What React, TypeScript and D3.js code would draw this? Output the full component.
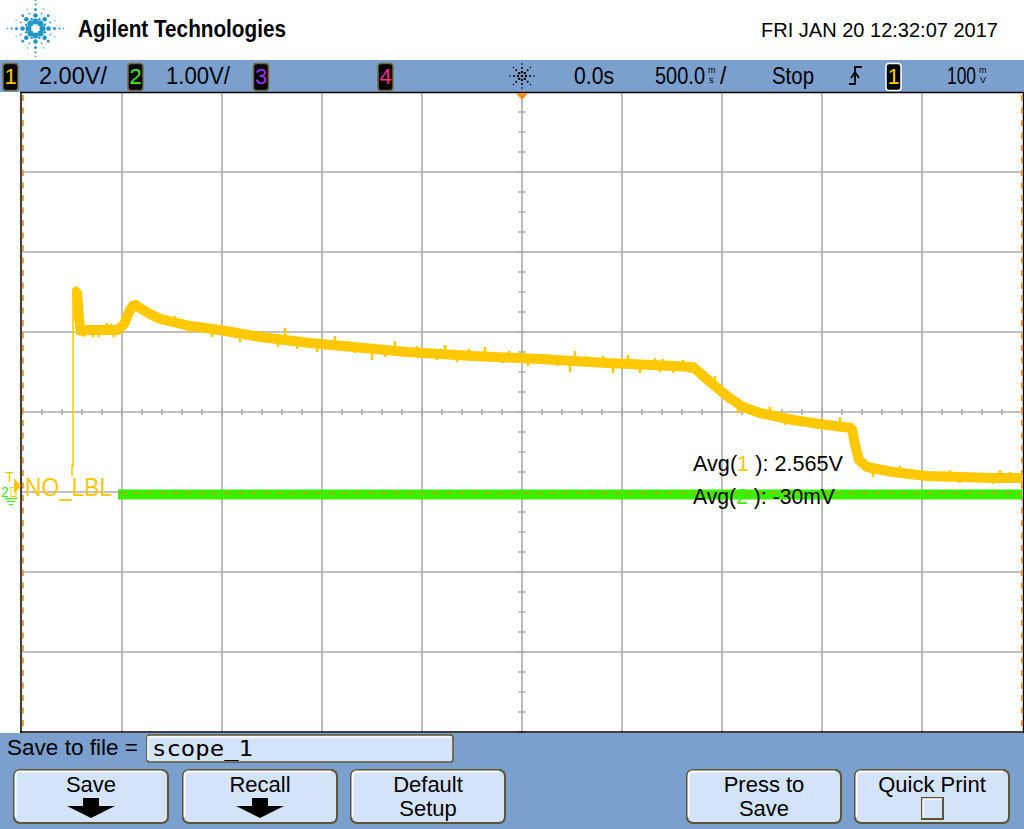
import React, { useEffect, useRef } from "react";
import * as d3 from "d3";

// channel 1 trace, centre of the noisy band (time in s, volts)
const ch1Time = [-2.245, -2.225, -2.215, -2.205, -2.19, -2.11, -2.02, -1.99, -1.965, -1.94, -1.91, -1.86, -1.81, -1.66, -1.51, -1.31, -1.06, -0.845, -0.575, -0.245, 0.09, 0.425, 0.755, 0.855, 0.89, 0.94, 1.025, 1.105, 1.19, 1.355, 1.525, 1.65, 1.665, 1.685, 1.725, 1.855, 2.025, 2.355, 2.5];
const ch1Volts = [5.03, 5.0, 4.35, 3.95, 4.05, 4.05, 4.05, 4.2, 4.5, 4.7, 4.6, 4.45, 4.33, 4.15, 4.05, 3.875, 3.725, 3.625, 3.5, 3.4, 3.325, 3.225, 3.15, 3.125, 2.975, 2.75, 2.4, 2.125, 1.975, 1.8, 1.675, 1.6, 1.175, 0.8, 0.625, 0.5, 0.4, 0.35, 0.35];

// thin leading edge before the band
const leadTime = [-2.25, -2.25, -2.245, -2.245];
const leadVolts = [0.4, 0.65, 0.65, 5.1];

// noise spikes (time, tip volts)
const spikeTime = [-2.145, -2.115, -2.075, -2.055, -2.04, -1.735, -1.67, -1.55, -1.46, -1.41, -1.32, -1.22, -1.185, -1.125, -1.025, -0.935, -0.87, -0.835, -0.75, -0.685, -0.635, -0.525, -0.52, -0.425, -0.385, -0.325, -0.265, -0.185, -0.1, -0.065, 0.03, 0.125, 0.175, 0.24, 0.265, 0.325, 0.405, 0.455, 0.53, 0.59, 0.665, 0.69, 0.705, 0.755, 0.805, 0.84, 0.965, 1.03, 1.08, 1.175, 1.24, 1.315, 1.38, 1.48, 1.59, 1.755, 1.89, 1.955, 2.14, 2.19, 2.355, 2.39, 2.44];
const spikeVolts = [3.875, 3.875, 4.225, 4.2, 3.875, 4.4, 3.975, 3.875, 3.875, 3.75, 4.025, 3.625, 4.1, 3.575, 3.5, 3.9, 3.775, 3.475, 3.3, 3.375, 3.775, 3.65, 3.35, 3.3, 3.675, 3.25, 3.575, 3.625, 3.225, 3.525, 3.15, 3.45, 3.15, 3.0, 3.525, 3.4, 3.4, 2.975, 3.425, 2.975, 3.35, 3.0, 3.325, 2.975, 3.3, 2.975, 2.9, 2.225, 1.975, 1.875, 2.125, 1.675, 1.9, 1.575, 1.875, 0.375, 0.65, 0.325, 0.55, 0.225, 0.2, 0.55, 0.5];

// channel 2 trace
const ch2Time = [-2.02, 2.5];
const ch2Volts = [-0.03, -0.03];

const FONT = "'Liberation Sans', Arial, sans-serif";
const BAR = "#7ca0cd";
const BTN = "#d3e4f8";
const YELLOW = "#ffc800";
const GREEN = "#38f000";
const ORANGE = "#ff8a00";

const ChanBox: React.FC<{ x: number; label: string; color: string; border?: string }> = ({ x, label, color, border = "#76693f" }) => (
  <g>
    <rect x={x} y={63.5} width={15} height={27} rx={3} fill="#000" stroke={border} strokeWidth={1.5} />
    <text x={x + 7.5} y={84} fill={color} fontSize={22} textAnchor="middle" fontFamily={FONT}>{label}</text>
  </g>
);

// small stacked unit, e.g. m over s
const Stacked: React.FC<{ x: number; top: string; bottom: string }> = ({ x, top, bottom }) => (
  <text x={x} y={73} fontSize={9} fontFamily={FONT}>
    {top}
    <tspan x={x + 1} dy={10}>{bottom}</tspan>
  </text>
);

const Button: React.FC<{ x: number; lines: string[]; arrow?: boolean; box?: boolean }> = ({ x, lines, arrow, box }) => {
  const w = 154, y = 770, h = 53, cx = x + w / 2;
  return (
    <g>
      <rect x={x} y={y} width={w} height={h} rx={6} fill={BTN} stroke="#5d5433" strokeWidth={2} />
      <path d={`M${x + 1.5},${y + h - 6} V${y + 6} Q${x + 1.5},${y + 1.5} ${x + 6},${y + 1.5} H${x + w - 6}`} fill="none" stroke="#fff" strokeWidth={2} />
      {lines.map((l, i) => (
        <text key={l} x={cx} y={792 + i * 24} fontSize={22} textAnchor="middle" fontFamily={FONT} fill="#000">{l}</text>
      ))}
      {arrow && <path d={`M${cx - 8},798 H${cx + 8} V806 H${cx + 24} L${cx},818 L${cx - 24},806 H${cx - 8} Z`} fill="#000" />}
      {box && (
        <g>
          <rect x={cx - 10} y={798} width={21} height={21} fill={BTN} stroke="#5d5433" strokeWidth={2} />
          <path d={`M${cx - 9},818 V799 H${cx + 10}`} fill="none" stroke="#fff" strokeWidth={1.5} />
        </g>
      )}
    </g>
  );
};

const Logo: React.FC = () => {
  const cx = 35.5, cy = 28.5;
  const dots: { x: number; y: number; r: number }[] = [];
  for (let k = 0; k < 8; k++) {
    const a = (k * Math.PI) / 4;
    const rings = k % 2 === 0 ? [[7, 3], [13, 2.3], [19, 1.5], [24, 1.1], [28, 0.8]] : [[7, 3], [13, 2.3], [18, 1.4]];
    rings.forEach(([r, s]) => dots.push({ x: cx + r * Math.cos(a), y: cy + r * Math.sin(a), r: s }));
    const b = a + Math.PI / 8;
    [[10, 1.6], [16, 1.1], [21, 0.8]].forEach(([r, s]) => dots.push({ x: cx + r * Math.cos(b), y: cy + r * Math.sin(b), r: s * 0.8 }));
  }
  return (
    <g fill="#2296c6">
      {dots.map((d, i) => <circle key={i} cx={d.x} cy={d.y} r={d.r} />)}
    </g>
  );
};

const TrigIcon: React.FC<{ cx: number; cy: number }> = ({ cx, cy }) => {
  const dots: [number, number, number][] = [[cx, cy, 1.3]];
  for (let k = 0; k < 8; k++) {
    const a = (k * Math.PI) / 4;
    [4, 8, 12].forEach((r, j) => dots.push([cx + r * Math.cos(a), cy + r * Math.sin(a), 1.2 - j * 0.2]));
  }
  return <g fill="#000">{dots.map(([x, y, r], i) => <circle key={i} cx={x} cy={y} r={r} />)}</g>;
};

const App: React.FC = () => {
  const plotRef = useRef<SVGGElement | null>(null);

  useEffect(() => {
    document.body.style.margin = "0";
    if (!plotRef.current) return;
    const g = d3.select(plotRef.current);
    g.selectAll("*").remove();

    const x = d3.scaleLinear().domain([-2.5, 2.5]).range([22, 1022]); // 500 ms/div
    const y1 = d3.scaleLinear().domain([-6, 10]).range([732, 92]); // 2 V/div
    const y2 = d3.scaleLinear().domain([-3, 5]).range([732, 92]); // 1 V/div

    // graticule
    const vLines = d3.range(1, 10).map((i) => -2.5 + i * 0.5);
    const hLines = d3.range(1, 8).map((i) => -6 + i * 2);
    g.selectAll(".vl")
      .data(vLines)
      .enter()
      .append("line")
      .attr("x1", (d) => x(d))
      .attr("x2", (d) => x(d))
      .attr("y1", 93)
      .attr("y2", 732)
      .attr("stroke", "#ababab")
      .attr("stroke-width", 1.6);
    g.selectAll(".hl")
      .data(hLines)
      .enter()
      .append("line")
      .attr("x1", 22)
      .attr("x2", 1022)
      .attr("y1", (d) => y1(d))
      .attr("y2", (d) => y1(d))
      .attr("stroke", "#ababab")
      .attr("stroke-width", 1.6);

    // minor ticks on the centre lines
    const yc = y1(2);
    g.selectAll(".tx")
      .data(d3.range(0, 51).map((i) => -2.5 + i * 0.1))
      .enter()
      .append("line")
      .attr("x1", (d) => x(d))
      .attr("x2", (d) => x(d))
      .attr("y1", yc - 3)
      .attr("y2", yc + 3)
      .attr("stroke", "#ababab")
      .attr("stroke-width", 1.6);
    g.selectAll(".ty")
      .data(d3.range(0, 33).map((i) => -6 + i * 0.5))
      .enter()
      .append("line")
      .attr("x1", x(0) - 3.5)
      .attr("x2", x(0) + 3.5)
      .attr("y1", (d) => y1(d))
      .attr("y2", (d) => y1(d))
      .attr("stroke", "#ababab")
      .attr("stroke-width", 1.6);

    // frame
    g.append("line").attr("x1", 20).attr("x2", 1024).attr("y1", 92.5).attr("y2", 92.5).attr("stroke", "#000").attr("stroke-width", 1.5);
    g.append("line").attr("x1", 20).attr("x2", 1024).attr("y1", 732).attr("y2", 732).attr("stroke", "#000").attr("stroke-width", 1.5);
    g.append("line").attr("x1", 21).attr("x2", 21).attr("y1", 92).attr("y2", 733).attr("stroke", "#000").attr("stroke-width", 1.5);
    g.append("line").attr("x1", 1023.5).attr("x2", 1023.5).attr("y1", 92).attr("y2", 733).attr("stroke", "#000").attr("stroke-width", 1.5);
    [22.8, 1022].forEach((px) =>
      g.append("line")
        .attr("x1", px).attr("x2", px).attr("y1", 95).attr("y2", 732)
        .attr("stroke", ORANGE).attr("stroke-width", 1.8).attr("stroke-dasharray", "6,6.5")
    );

    // time reference marker
    g.append("path")
      .attr("d", `M${x(0) - 6},93 L${x(0) + 6},93 L${x(0)},100 Z`)
      .attr("fill", "#ff8c1a");

    // channel 2 trace
    const line2 = d3.line<number>().x((d, i) => x(ch2Time[i])).y((d) => y2(d));
    g.append("path")
      .datum(ch2Volts)
      .attr("d", line2)
      .attr("fill", "none")
      .attr("stroke", GREEN)
      .attr("stroke-width", 10);
    g.append("line")
      .attr("x1", x(ch2Time[0]) + 2)
      .attr("x2", 1022)
      .attr("y1", y2(0) + 0.5)
      .attr("y2", y2(0) + 0.5)
      .attr("stroke", ORANGE)
      .attr("stroke-width", 1)
      .attr("stroke-dasharray", "7,6");

    // channel 1 trace
    const lead = d3.line<number>().x((d, i) => x(leadTime[i])).y((d) => y1(d));
    g.append("path")
      .datum(leadVolts)
      .attr("d", lead)
      .attr("fill", "none")
      .attr("stroke", YELLOW)
      .attr("stroke-width", 1.5);

    const line1 = d3.line<number>().x((d, i) => x(ch1Time[i])).y((d) => y1(d));
    g.append("path")
      .datum(ch1Volts)
      .attr("d", line1)
      .attr("fill", "none")
      .attr("stroke", YELLOW)
      .attr("stroke-width", 10)
      .attr("stroke-linejoin", "bevel");

    const centre = d3.scaleLinear().domain(ch1Time).range(ch1Volts);
    g.selectAll(".spike")
      .data(spikeVolts)
      .enter()
      .append("line")
      .attr("x1", (d, i) => x(spikeTime[i]))
      .attr("x2", (d, i) => x(spikeTime[i]))
      .attr("y1", (d, i) => y1(centre(spikeTime[i])))
      .attr("y2", (d) => y1(d))
      .attr("stroke", YELLOW)
      .attr("stroke-width", 2.5);

    // label over the left end of channel 2
    g.append("text")
      .attr("x", 25)
      .attr("y", 496)
      .attr("fill", YELLOW)
      .attr("font-family", FONT)
      .attr("font-size", 25)
      .attr("textLength", 87)
      .attr("lengthAdjust", "spacingAndGlyphs")
      .text("NO_LBL");

    // left-edge markers: trigger level, channel 2 ground
    g.append("text").attr("x", 5).attr("y", 482).attr("fill", YELLOW).attr("font-family", FONT).attr("font-size", 15).text("T");
    g.append("path").attr("d", "M14,478 L21,486 L14,494 Z").attr("fill", YELLOW);
    g.append("rect").attr("x", 11).attr("y", 487.5).attr("width", 5).attr("height", 9).attr("fill", "none").attr("stroke", YELLOW).attr("stroke-width", 1);
    g.append("text").attr("x", 1).attr("y", 497).attr("fill", GREEN).attr("font-family", FONT).attr("font-size", 14).text("2");
    [[498.5, 6], [501.5, 4], [504.5, 2]].forEach(([yy, hw]) =>
      g.append("line").attr("x1", 11 - hw).attr("x2", 11 + hw).attr("y1", yy).attr("y2", yy).attr("stroke", GREEN).attr("stroke-width", 1.2)
    );

    // measurement readout
    const avg = [
      { base: 471, ch: "1", color: YELLOW, val: "2.565V", len: 150 },
      { base: 504, ch: "2", color: GREEN, val: "-30mV", len: 142 },
    ];
    avg.forEach((a) => {
      const t = g.append("text")
        .attr("x", 693)
        .attr("y", a.base)
        .attr("font-family", FONT)
        .attr("font-size", 22)
        .attr("fill", "#000")
        .attr("textLength", a.len)
        .attr("lengthAdjust", "spacingAndGlyphs");
      t.append("tspan").text("Avg(");
      t.append("tspan").attr("fill", a.color).text(a.ch);
      t.append("tspan").text(` ): ${a.val}`);
    });
  }, []);

  return (
    <svg width={1024} height={829} viewBox="0 0 1024 829" style={{ display: "block", background: "#fff" }}>
      {/* header */}
      <rect x={0} y={0} width={1024} height={60} fill="#fff" />
      <Logo />
      <text x={78} y={37} fontSize={23} fontWeight="bold" fontFamily={FONT} textLength={208} lengthAdjust="spacingAndGlyphs">Agilent Technologies</text>
      <text x={761} y={37} fontSize={21} fontFamily={FONT} textLength={237} lengthAdjust="spacingAndGlyphs">FRI JAN 20 12:32:07 2017</text>

      {/* status bar */}
      <rect x={0} y={60} width={1024} height={32} fill={BAR} />
      <ChanBox x={3} label="1" color={YELLOW} />
      <text x={39} y={84} fontSize={23} fontFamily={FONT} textLength={68} lengthAdjust="spacingAndGlyphs">2.00V/</text>
      <ChanBox x={128} label="2" color={GREEN} />
      <text x={166} y={84} fontSize={23} fontFamily={FONT} textLength={64} lengthAdjust="spacingAndGlyphs">1.00V/</text>
      <ChanBox x={253.5} label="3" color="#a030f0" />
      <ChanBox x={378} label="4" color="#ff2a8c" />
      <TrigIcon cx={522} cy={76} />
      <text x={574} y={84} fontSize={23} fontFamily={FONT} textLength={40} lengthAdjust="spacingAndGlyphs">0.0s</text>
      <text x={655} y={84} fontSize={23} fontFamily={FONT} textLength={50} lengthAdjust="spacingAndGlyphs">500.0</text>
      <Stacked x={708} top="m" bottom="s" />
      <text x={720} y={84} fontSize={23} fontFamily={FONT}>/</text>
      <text x={772} y={84} fontSize={23} fontFamily={FONT} textLength={42} lengthAdjust="spacingAndGlyphs">Stop</text>
      <path d="M849,84 H855 V67 H862 M851,78 L855,72 L859,78" fill="none" stroke="#000" strokeWidth={1.8} />
      <ChanBox x={886} label="1" color={YELLOW} border="#ffffff" />
      <text x={947} y={84} fontSize={23} fontFamily={FONT} textLength={29} lengthAdjust="spacingAndGlyphs">100</text>
      <Stacked x={979} top="m" bottom="V" />

      {/* scope screen */}
      <rect x={21} y={92} width={1003} height={640} fill="#fff" />
      <g ref={plotRef} />

      {/* soft-key panel */}
      <rect x={0} y={733} width={1024} height={96} fill={BAR} />
      <text x={7} y={755} fontSize={22} fontFamily={FONT} textLength={131} lengthAdjust="spacingAndGlyphs">Save to file =</text>
      <rect x={147} y={735} width={306} height={27} rx={3} fill={BTN} stroke="#5d5433" strokeWidth={1.5} />
      <path d="M148,760 V737 H452" fill="none" stroke="#fff" strokeWidth={1.5} />
      <text x={152} y={756} fontSize={22} fontFamily="'DejaVu Sans Mono', monospace" textLength={101} lengthAdjust="spacingAndGlyphs">scope_1</text>
      <Button x={14} lines={["Save"]} arrow />
      <Button x={183} lines={["Recall"]} arrow />
      <Button x={351} lines={["Default", "Setup"]} />
      <Button x={687} lines={["Press to", "Save"]} />
      <Button x={855} lines={["Quick Print"]} box />
    </svg>
  );
};

export default App;
